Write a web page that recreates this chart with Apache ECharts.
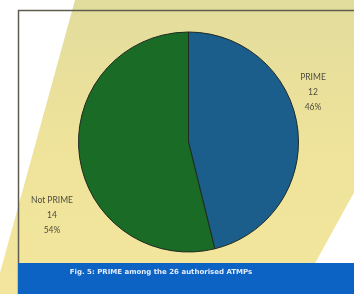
<!DOCTYPE html>
<html>
<head>
<meta charset="utf-8">
<script src="https://cdn.jsdelivr.net/npm/echarts@6/dist/echarts.min.js"></script>
<style>
html,body{margin:0;padding:0;background:#fff;}
#c{width:354px;height:294px;}
</style>
</head>
<body>
<div id="c"></div>
<script>
const categories = ['PRIME', 'Not PRIME'];
const values = [12, 14];
const sliceColors = ['#1c5e8b', '#1a6b26'];
const caption = 'Fig. 5: PRIME among the 26 authorised ATMPs';

const chart = echarts.init(document.getElementById('c'), null, {renderer: 'canvas'});
const labelPos = [
  {x: 313, y: 92},
  {x: 52, y: 215}
];
chart.setOption({
  animation: false,
  graphic: [
    {type: 'polygon', z: -10, silent: true,
      shape: {points: [[75, 0], [460, 0], [379 - 0.275 * 294, 294], [75 - 0.275 * 294, 294]]},
      style: {fill: new echarts.graphic.LinearGradient(0, 0, 0, 1, [
        {offset: 0, color: '#e2dc9c'}, {offset: 0.5, color: '#efe39b'}, {offset: 1, color: '#f3e59c'}])}
    },
    {type: 'rect', z: -5, silent: true,
      shape: {x: 18.5, y: 10.5, width: 400, height: 300},
      style: {fill: 'none', stroke: '#5f5d50', lineWidth: 1.5}
    },
    {type: 'rect', z: 5, silent: true,
      shape: {x: 18, y: 263, width: 340, height: 31},
      style: {fill: '#0c63c3'}
    },
    {type: 'text', z: 6, silent: true,
      x: 161, y: 272,
      style: {text: caption, fill: '#e3ecfb', font: 'bold 7px "DejaVu Sans"', align: 'center', verticalAlign: 'middle'}
    }
  ],
  series: [{
    type: 'pie',
    center: [188.5, 142],
    radius: 110,
    startAngle: 90,
    clockwise: true,
    percentPrecision: 0,
    avoidLabelOverlap: false,
    data: categories.map((n, i) => ({name: n, value: values[i], itemStyle: {color: sliceColors[i]}})),
    itemStyle: {borderColor: '#1f2a22', borderWidth: 1},
    label: {
      show: true,
      position: 'outside',
      formatter: '{b}\n{c}\n{d}%',
      color: '#4e4d3d',
      fontSize: 8.5,
      fontFamily: 'Lato',
      lineHeight: 15,
      align: 'center',
      overflow: 'none',
      width: 80
    },
    labelLine: {show: false},
    labelLayout: function (p) {
      const pos = labelPos[p.dataIndex];
      return {x: pos.x, y: pos.y, align: 'center', verticalAlign: 'middle', hideOverlap: false};
    },
    emphasis: {disabled: true}
  }]
});
</script>
</body>
</html>
